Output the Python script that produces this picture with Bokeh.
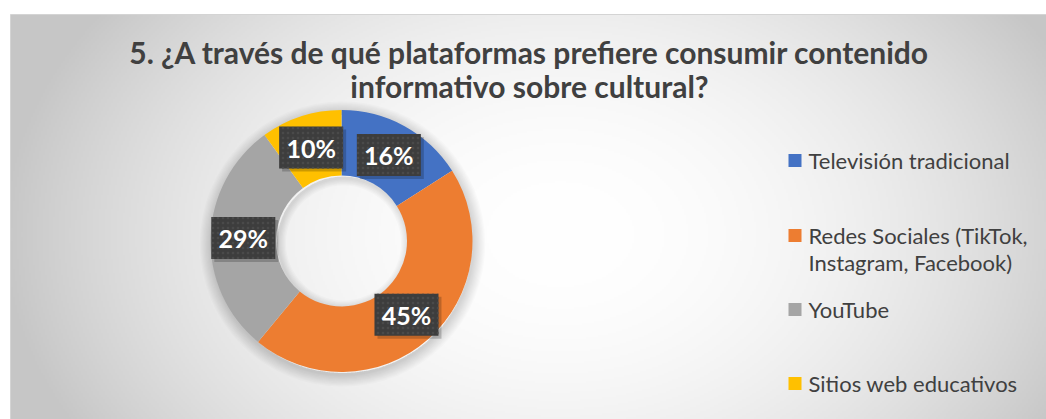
import numpy as np
from bokeh.plotting import figure
from bokeh.models import Range1d, ColumnDataSource
from bokeh.core.properties import value
from bokeh.embed import file_html
from bokeh.resources import INLINE

# ---- data ----
title_lines = ["5. ¿A través de qué plataformas prefiere consumir contenido",
               "informativo sobre cultural?"]
categories = ["Televisión tradicional",
              "Redes Sociales (TikTok, Instagram, Facebook)",
              "YouTube",
              "Sitios web educativos"]
legend_lines = [["Televisión tradicional"],
                ["Redes Sociales (TikTok,", "Instagram, Facebook)"],
                ["YouTube"],
                ["Sitios web educativos"]]
shares = [16, 45, 29, 10]
colors = ["#4472C4", "#ED7D31", "#A5A5A5", "#FFC000"]

# ---- layout ----
W, H = 1046, 419
FONT = "Lato"
cx, cy = 341, 178.5
r_out, r_in = 131, 65.5

p = figure(width=W, height=H, x_range=Range1d(0, W), y_range=Range1d(0, H),
           output_backend="svg", toolbar_location=None, min_border=0,
           background_fill_color="white", border_fill_color="white", outline_line_color=None)
p.axis.visible = False
p.grid.visible = False

# background radial gradient (chart area)
fx0, fy1 = 10, 405
gw, gh = (W - fx0) // 2, fy1 // 2
xs = np.linspace(fx0, W, gw)
ys = np.linspace(0, fy1, gh)
X, Y = np.meshgrid(xs, ys)
d = np.sqrt(((X - 560) / 560) ** 2 + ((Y - 185) / 400) ** 2)
t = np.clip(d, 0, 1) ** 2
g = (255 - t * (255 - 198)).astype(np.uint32)
img = (255 << 24) | (g << 16) | (g << 8) | g
p.image_rgba(image=[img.astype(np.uint32)], x=fx0, y=0, dw=W - fx0, dh=fy1)
p.line([fx0, fx0, W], [0, fy1, fy1], line_color="#d4d4d4", line_width=1)

# donut shadow
for i in range(10):
    p.annulus(x=cx + 1, y=cy - 3, inner_radius=r_out - 2, outer_radius=r_out + 1 + i * 1.2,
              fill_color="black", fill_alpha=0.016, line_color=None)
# inner (hole) shadow
for i in range(6):
    p.annulus(x=cx + 2, y=cy - 2, inner_radius=r_in - 2 - i * 1.2, outer_radius=r_in + 1,
              fill_color="black", fill_alpha=0.02, line_color=None)

# donut
frac = np.array(shares) / sum(shares)
cum = np.concatenate([[0], np.cumsum(frac)])
starts = np.pi / 2 - 2 * np.pi * cum[:-1]
ends = np.pi / 2 - 2 * np.pi * cum[1:]
src = ColumnDataSource(dict(start=starts, end=ends, color=colors))
p.annular_wedge(x=cx, y=cy, inner_radius=r_in, outer_radius=r_out,
                start_angle="start", end_angle="end", direction="clock",
                fill_color="color", line_color=None, source=src)

# data labels
mid = (cum[:-1] + cum[1:]) / 2
r_lab = (r_in + r_out) / 2
lx = cx + r_lab * np.sin(2 * np.pi * mid)
ly = cy + r_lab * np.cos(2 * np.pi * mid)
labels = [f"{s}%" for s in shares]
p.rect(x=lx + 3, y=ly - 3, width=64, height=42, fill_color="black", fill_alpha=0.2, line_color=None)
p.rect(x=lx, y=ly, width=64, height=42, fill_color="#3d3d3d", line_color=None,
       hatch_pattern="dot", hatch_color="#4a4a4a", hatch_scale=5, hatch_weight=1.0)
p.text(x=lx, y=ly, text=labels, text_align="center", text_baseline="middle",
       text_font=value(FONT), text_font_style="bold", text_font_size="25px", text_color="white")

# title
p.text(x=[529, 529], y=[H - 51, H - 85], text=title_lines, text_align="center", text_baseline="alphabetic",
       text_font=value(FONT), text_font_style="bold", text_font_size="30px", text_color="#404040")

# legend
leg_y = [H - 160, H - 235, H - 309, H - 383]
p.rect(x=[794.5] * 4, y=leg_y, width=13, height=13, fill_color=colors, line_color=None)
tx, ty, tt = [], [], []
for yy, lines in zip(leg_y, legend_lines):
    for k, ln in enumerate(lines):
        tx.append(808); ty.append(yy - 27 * k); tt.append(ln)
p.text(x=tx, y=ty, text=tt, text_align="left", text_baseline="middle",
       text_font=value(FONT), text_font_size="22px", text_color="#404040")

open("out.html", "w").write(file_html(p, INLINE))
